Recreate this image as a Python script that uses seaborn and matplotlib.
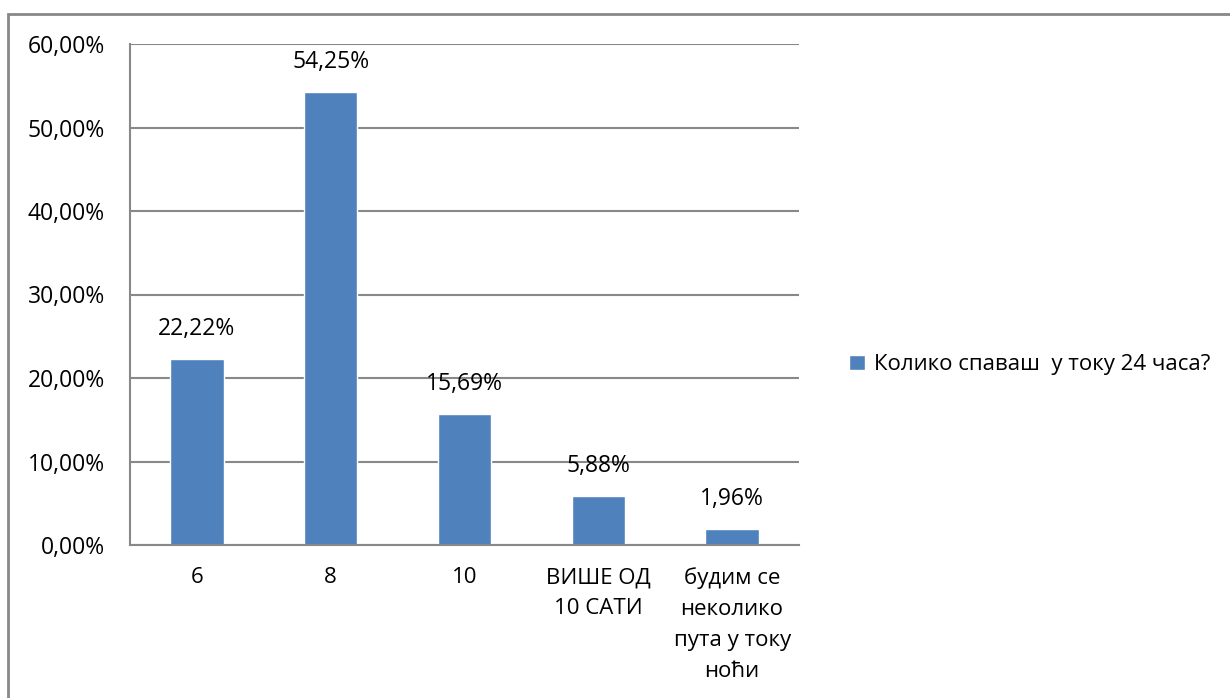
import matplotlib
matplotlib.use("Agg")
import matplotlib.pyplot as plt
import matplotlib.patches as mpatches
import pandas as pd
import seaborn as sns

# values
categories = ["6", "8", "10", "ВИШЕ ОД\n10 САТИ", "будим се\nнеколико\nпута у току\nноћи"]
percent = [22.22, 54.25, 15.69, 5.88, 1.96]
series_name = "Колико спаваш  у току 24 часа?"
y_ticks = [0, 10, 20, 30, 40, 50, 60]

sns.set_style("white")
plt.rcParams["font.family"] = ["Open Sans", "DejaVu Sans"]
plt.rcParams["text.color"] = "black"
plt.rcParams["xtick.labelcolor"] = "black"
plt.rcParams["ytick.labelcolor"] = "black"

bar_color = "#4F81BD"
grid_color = "#888888"

df = pd.DataFrame({"category": categories, "percent": percent})

fig = plt.figure(figsize=(12.3, 6.98), dpi=100)
ax = fig.add_axes([130 / 1230, 1 - 545 / 698, (799 - 130) / 1230, (545 - 44) / 698])

sns.barplot(data=df, x="category", y="percent", color=bar_color,
            width=0.4, saturation=1, ax=ax, label=series_name)

# outer chart frame, cut off at right and bottom like the original
frame = mpatches.Rectangle((8 / 1230, -0.1), 1.2, 1 - 14 / 698 + 0.1,
                           transform=fig.transFigure, fill=False,
                           edgecolor=grid_color, linewidth=2, zorder=0)
fig.patches.append(frame)

ax.set_xlim(-0.5, len(categories) - 0.5)
ax.set_ylim(0, 60)
ax.set_yticks(y_ticks)
ax.set_yticklabels([f"{t:.2f}%".replace(".", ",") for t in y_ticks], fontsize=16.5)
ax.yaxis.grid(True, color=grid_color, linewidth=1.5)
ax.set_axisbelow(True)

# category boundary ticks on x, labels centred under bars
ax.set_xticks(range(len(categories)))
ax.set_xticklabels(categories, fontsize=16, linespacing=1.62)
ax.tick_params(axis="x", length=0, pad=16)
ax.set_xticks([i - 0.5 for i in range(len(categories) + 1)], minor=True)
ax.tick_params(axis="x", which="minor", length=7, width=1.5, color=grid_color)
ax.tick_params(axis="y", length=8, width=1.5, color=grid_color, pad=10)

for side in ["top", "right"]:
    ax.spines[side].set_visible(False)
for side in ["left", "bottom"]:
    ax.spines[side].set_color(grid_color)
    ax.spines[side].set_linewidth(1.5)

ax.set_xlabel("")
ax.set_ylabel("")

ax.bar_label(ax.containers[0],
             labels=[f"{v:.2f}%".replace(".", ",") for v in percent],
             padding=13, fontsize=16.5)

ax.legend(loc="center left", bbox_to_anchor=(1.045, 0.36), frameon=False,
          fontsize=16, handlelength=0.7, handleheight=0.7, handletextpad=0.4)

fig.savefig("out.png", dpi=100)
